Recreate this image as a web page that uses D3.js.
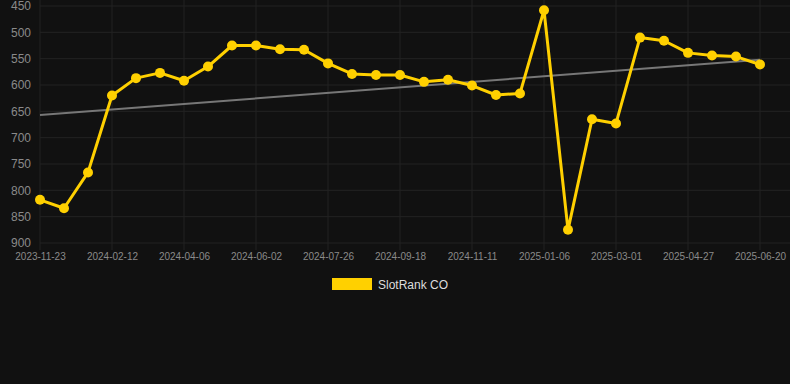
<!DOCTYPE html>
<html>
<head>
<meta charset="utf-8">
<script src="https://cdn.jsdelivr.net/npm/d3@7"></script>
<style>
  body { margin: 0; background: #111111; }
  svg { display: block; }
</style>
</head>
<body>
<svg id="chart" width="790" height="384"></svg>
<script>
const dates = [
  "2023-11-23", "2023-12-20", "2024-01-16", "2024-02-12", "2024-03-01", "2024-03-19",
  "2024-04-06", "2024-04-25", "2024-05-14", "2024-06-02", "2024-06-20", "2024-07-08",
  "2024-07-26", "2024-08-13", "2024-08-31", "2024-09-18", "2024-10-06", "2024-10-24",
  "2024-11-11", "2024-11-29", "2024-12-18", "2025-01-06", "2025-01-24", "2025-02-11",
  "2025-03-01", "2025-03-20", "2025-04-08", "2025-04-27", "2025-05-15", "2025-06-02",
  "2025-06-20"
];
const ranks = [
  818, 834, 766, 620, 587, 577, 592, 565, 525, 525, 532, 533, 559, 579, 581, 581,
  594, 590, 601, 619, 616, 458, 875, 665, 673, 510, 516, 539, 544, 546, 561
];
const yTicks = [450, 500, 550, 600, 650, 700, 750, 800, 850, 900];
const trendStart = 657, trendEnd = 552;
const seriesName = "SlotRank CO";

const svg = d3.select("#chart");
const gold = "#FFD000";

const x = d3.scalePoint().domain(dates).range([40, 760]);
const y = d3.scaleLinear().domain([450, 900]).range([6, 243]);

const xTicks = dates.filter((d, i) => i % 3 === 0);

// grid
svg.append("g")
  .selectAll("line")
  .data(yTicks)
  .join("line")
  .attr("x1", 40).attr("x2", 790)
  .attr("y1", d => y(d)).attr("y2", d => y(d))
  .attr("stroke", "#232323")
  .attr("stroke-width", 1);

svg.append("g")
  .selectAll("line")
  .data(xTicks)
  .join("line")
  .attr("x1", d => x(d)).attr("x2", d => x(d))
  .attr("y1", 0).attr("y2", 250)
  .attr("stroke", "#232323")
  .attr("stroke-width", 1);

// y axis labels
const yAxis = svg.append("g")
  .attr("transform", "translate(31,0)")
  .call(d3.axisLeft(y).tickValues(yTicks).tickSize(0).tickPadding(0));
yAxis.select(".domain").remove();
yAxis.selectAll("text")
  .attr("fill", "#8a8a8a")
  .style("font-family", "Liberation Sans, Arial, sans-serif")
  .style("font-size", "12px");

// x axis labels
const xAxis = svg.append("g")
  .attr("transform", "translate(0,253)")
  .call(d3.axisBottom(x).tickValues(xTicks).tickSize(0).tickPadding(0));
xAxis.select(".domain").remove();
xAxis.selectAll("text")
  .attr("fill", "#8a8a8a")
  .style("font-family", "Liberation Sans, Arial, sans-serif")
  .style("font-size", "10px");

// trend line
svg.append("line")
  .attr("x1", x(dates[0])).attr("x2", x(dates[dates.length - 1]))
  .attr("y1", y(trendStart)).attr("y2", y(trendEnd))
  .attr("stroke", "#777")
  .attr("stroke-width", 2);

// series
const line = d3.line()
  .x((d, i) => x(dates[i]))
  .y(d => y(d));

svg.append("path")
  .datum(ranks)
  .attr("fill", "none")
  .attr("stroke", gold)
  .attr("stroke-width", 3)
  .attr("stroke-linejoin", "round")
  .attr("d", line);

svg.append("g")
  .selectAll("circle")
  .data(ranks)
  .join("circle")
  .attr("cx", (d, i) => x(dates[i]))
  .attr("cy", d => y(d))
  .attr("r", 5)
  .attr("fill", gold);

// legend
svg.append("rect")
  .attr("x", 332).attr("y", 278)
  .attr("width", 40).attr("height", 12)
  .attr("fill", gold);

svg.append("text")
  .attr("x", 378).attr("y", 289)
  .attr("fill", "#dddddd")
  .style("font-family", "Liberation Sans, Arial, sans-serif")
  .style("font-size", "12px")
  .text(seriesName);
</script>
</body>
</html>
